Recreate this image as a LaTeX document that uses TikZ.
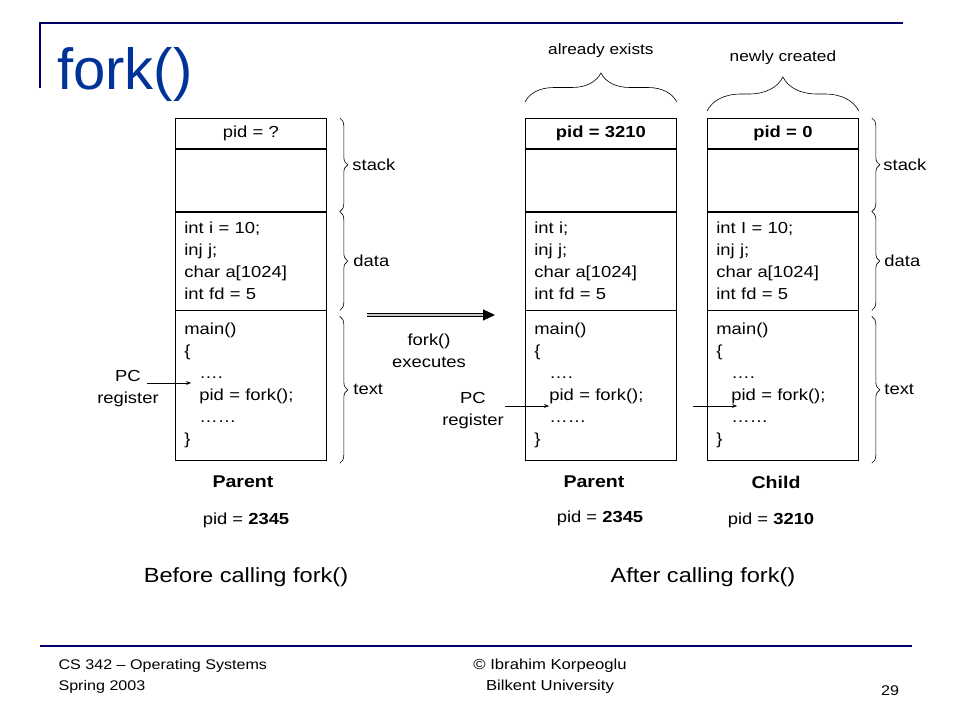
\documentclass[tikz,border=0pt]{standalone}
\usepackage{fontspec}
\setmainfont[FakeStretch=1.15]{Liberation Sans}
\newfontfamily\titlefont{Liberation Sans}
\usetikzlibrary{arrows.meta}
\usetikzlibrary{positioning}
\usetikzlibrary{decorations.pathreplacing}

\definecolor{slideblue}{RGB}{0,51,153}
\definecolor{rulenavy}{RGB}{0,0,102}

\tikzset{
  cell/.style={draw, line width=0.8pt, text width=133pt, inner xsep=9pt, inner ysep=0pt,
    align=left, font=\fontsize{16}{22}\selectfont},
  pidcell/.style={cell, minimum height=30pt, align=center},
  rbrace/.style={decorate, decoration={brace, amplitude=8pt}, line width=0.6pt},
  tbrace/.style={decorate, decoration={brace, amplitude=#1}, line width=0.6pt},
  lbl/.style={font=\fontsize{16}{22}\selectfont, align=center},
  plbl/.style={font=\fontsize{17}{20}\selectfont\bfseries},
  caption/.style={font=\fontsize{20.5}{24}\selectfont},
  foot/.style={font=\fontsize{14}{21}\selectfont, align=left},
  forkarrow/.style={double=gray!45, double distance=2.2pt, line width=1.1pt,
    -{Triangle[length=12pt,width=11pt]}}
}

\begin{document}
\begin{tikzpicture}[>=Stealth, x=1pt, y=-1pt]
  \useasboundingbox (0,0) rectangle (960,720);

  % Slide frame and title
  \draw[rulenavy, line width=2pt] (40,88) -- (40,23) -- (903,23);
  \draw[rulenavy, line width=2pt] (40,646) -- (912,646);
  \node[anchor=base west, inner sep=0pt, text=slideblue,
    font=\titlefont\fontsize{58}{62}\selectfont] (title) at (57,89) {fork()};

  % Parent before fork
  \node[pidcell, anchor=north west] (ppid) at (175,118) {pid = ?};
  \node[cell, minimum height=62pt, below=0pt of ppid] (pstack) {};
  \node[cell, minimum height=98pt, below=0pt of pstack] (pdata)
    {int i = 10;\\inj j;\\char a[1024]\\int fd = 5};
  \node[cell, minimum height=150pt, below=0pt of pdata] (ptext)
    {main()\\\{\\\hspace*{15pt}….\\\hspace*{15pt}pid = fork();\\\hspace*{15pt}……\\\}};

  % Parent after fork
  \node[pidcell, anchor=north west] (qpid) at (525,118) {\bfseries pid = 3210};
  \node[cell, minimum height=62pt, below=0pt of qpid] (qstack) {};
  \node[cell, minimum height=98pt, below=0pt of qstack] (qdata)
    {int i;\\inj j;\\char a[1024]\\int fd = 5};
  \node[cell, minimum height=150pt, below=0pt of qdata] (qtext)
    {main()\\\{\\\hspace*{15pt}….\\\hspace*{15pt}pid = fork();\\\hspace*{15pt}……\\\}};

  % Child after fork
  \node[pidcell, anchor=north west] (cpid) at (707,118) {\bfseries pid = 0};
  \node[cell, minimum height=62pt, below=0pt of cpid] (cstack) {};
  \node[cell, minimum height=98pt, below=0pt of cstack] (cdata)
    {int I = 10;\\inj j;\\char a[1024]\\int fd = 5};
  \node[cell, minimum height=150pt, below=0pt of cdata] (ctext)
    {main()\\\{\\\hspace*{15pt}….\\\hspace*{15pt}pid = fork();\\\hspace*{15pt}……\\\}};

  % Segment braces
  \draw[rbrace] ([xshift=13pt]ppid.north east) -- ([xshift=13pt]pstack.south east)
    node[midway, right=9pt, lbl] (lstack1) {stack};
  \draw[rbrace] ([xshift=13pt]pdata.north east) -- ([xshift=13pt]pdata.south east)
    node[midway, right=10pt, lbl] (ldata1) {data};
  \draw[rbrace] ([xshift=13pt,yshift=-6pt]ptext.north east) -- ([xshift=13pt,yshift=-2pt]ptext.south east)
    node[midway, right=10pt, lbl] (ltext1) {text};
  \draw[rbrace] ([xshift=13pt]cpid.north east) -- ([xshift=13pt]cstack.south east)
    node[midway, right=8pt, lbl] (lstack2) {stack};
  \draw[rbrace] ([xshift=13pt]cdata.north east) -- ([xshift=13pt]cdata.south east)
    node[midway, right=9pt, lbl] (ldata2) {data};
  \draw[rbrace] ([xshift=13pt,yshift=-6pt]ctext.north east) -- ([xshift=13pt,yshift=-2pt]ctext.south east)
    node[midway, right=9pt, lbl] (ltext2) {text};

  % Braces on top
  \draw[tbrace=29pt] ([yshift=16pt]qpid.north west) -- ([yshift=16pt]qpid.north east)
    node[midway, above=41pt, lbl, font=\fontsize{15}{18}\selectfont] (lexists) {already exists};
  \draw[tbrace=34pt] ([yshift=7pt]cpid.north west) -- ([yshift=7pt]cpid.north east)
    node[midway, above=43pt, lbl, font=\fontsize{15}{18}\selectfont] (lcreated) {newly created};

  % fork() executes
  \coordinate (fx1) at (367,315);
  \coordinate (fx2) at (495,315);
  \draw[forkarrow] (fx1) -- (fx2);
  \node[lbl] (forkexec) at (429,351) {fork()\\executes};

  % PC register
  \node[lbl] (pc1) at (128,389) {PC\\register};
  \coordinate (pc1to) at (191,383);
  \draw[->] ([xshift=-15pt,yshift=6pt]pc1.east) -- (pc1to);
  \node[lbl] (pc2) at (473,411) {PC\\register};
  \coordinate (pc2to) at (549,406);
  \draw[->] ([xshift=-2pt,yshift=5pt]pc2.east) -- (pc2to);
  \coordinate (pc3from) at (693,406);
  \coordinate (pc3to) at (737,406);
  \draw[->] (pc3from) -- (pc3to);

  % Process labels
  \node[plbl] (par1) at (243,482) {Parent};
  \node[lbl] (ppid1) at (246,520) {pid = \textbf{2345}};
  \node[plbl] (par2) at (594,482) {Parent};
  \node[lbl] (ppid2) at (600,518) {pid = \textbf{2345}};
  \node[plbl] (chld) at (776,482) {Child};
  \node[lbl] (cpid2) at (771,520) {pid = \textbf{3210}};

  \node[caption] (before) at (246,577) {Before calling fork()};
  \node[caption] (after) at (703,577) {After calling fork()};

  % Footer
  \node[foot, anchor=west] (course) at (55,676) {CS 342 – Operating Systems\\Spring 2003};
  \node[foot, align=center, font=\fontsize{14.5}{21}\selectfont] (author) at (550,676) {© Ibrahim Korpeoglu\\Bilkent University};
  \node[foot] (page) at (890,691) {29};
\end{tikzpicture}
\end{document}
